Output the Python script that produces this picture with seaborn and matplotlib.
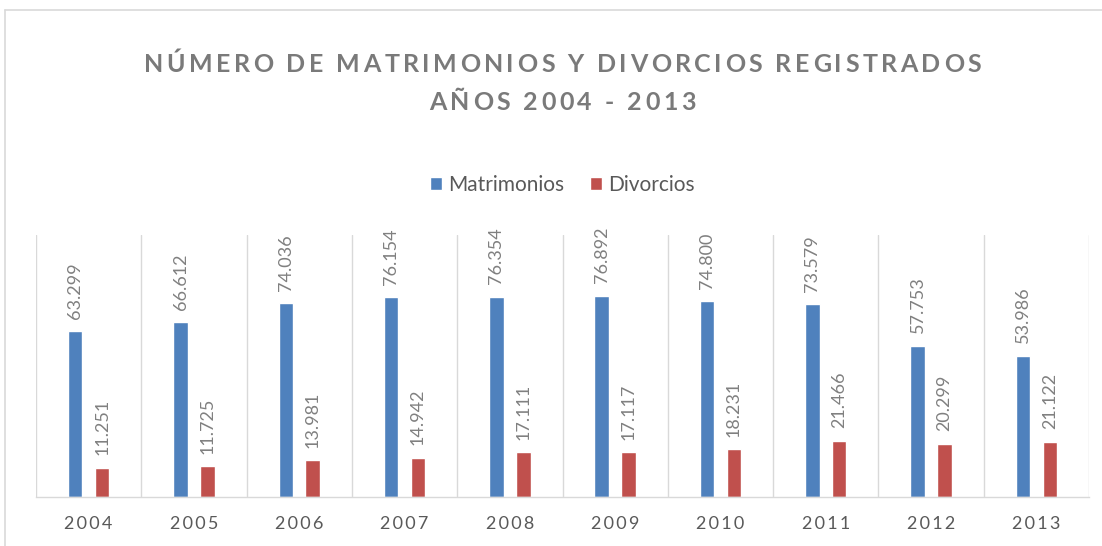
import matplotlib
matplotlib.use("Agg")
import matplotlib.pyplot as plt
from matplotlib.lines import Line2D
import seaborn as sns
import pandas as pd
import numpy as np

anios = ["2004", "2005", "2006", "2007", "2008", "2009", "2010", "2011", "2012", "2013"]
matrimonios = [63299, 66612, 74036, 76154, 76354, 76892, 74800, 73579, 57753, 53986]
divorcios = [11251, 11725, 13981, 14942, 17111, 17117, 18231, 21466, 20299, 21122]
series = ["Matrimonios", "Divorcios"]
titulo = ["NÚMERO DE MATRIMONIOS Y DIVORCIOS REGISTRADOS", "AÑOS 2004 - 2013"]

sns.set_theme(style="white")
plt.rcParams['font.family'] = ['Lato', 'DejaVu Sans']

df = pd.DataFrame({
    "Año": anios * 2,
    "Valor": matrimonios + divorcios,
    "Serie": [series[0]] * len(anios) + [series[1]] * len(anios),
})

W, H = 1102, 546
fig = plt.figure(figsize=(W / 100, H / 100), dpi=100)
ax = fig.add_axes([36 / W, 1 - 497 / H, (1089 - 36) / W, (497 - 235) / H])

sns.barplot(data=df, x="Año", y="Valor", hue="Serie", palette=["#4F81BD", "#C0504D"],
            width=0.51, gap=0.46, ax=ax, legend=True, saturation=1)

def fmt(v):
    return f"{v:,.0f}".replace(",", ".")

for cont in ax.containers:
    ax.bar_label(cont, labels=[fmt(b.get_height()) for b in cont], rotation=90,
                 padding=9, color="#808080", fontsize=13)

ax.set_xlim(-0.5, len(anios) - 0.5)
ax.set_ylim(0, 100000)
ax.set_xlabel("")
ax.set_ylabel("")
ax.set_yticks([])

ts = "\u2009"
ax.set_xticks(range(len(anios)))
ax.set_xticklabels([ts.join(list(a)) for a in anios], color="#595959", fontsize=13)
ax.tick_params(axis="x", which="major", length=0, pad=14)
ax.set_xticks(np.arange(-0.5, len(anios), 1), minor=True)
ax.tick_params(axis="x", which="minor", length=5, color="#D9D9D9", width=1)
ax.grid(which="minor", axis="x", color="#D9D9D9", linewidth=1)
ax.grid(which="major", axis="both", visible=False)
for s in ["top", "left", "right"]:
    ax.spines[s].set_visible(False)
ax.spines["bottom"].set_color("#D9D9D9")
ax.spines["bottom"].set_linewidth(1)

leg = ax.legend(loc="center", bbox_to_anchor=(0.5, (497 - 185) / (497 - 235)),
                ncol=2, frameon=False, fontsize=15, handlelength=0.6, handleheight=0.6,
                handletextpad=0.3, columnspacing=1.2)
for t in leg.get_texts():
    t.set_color("#595959")

# letter-spaced title, drawn character by character
renderer = fig.canvas.get_renderer()
tkw = dict(fontsize=18, fontweight="bold", color="#7A7A7A")

def text_w(s):
    t = fig.text(0, 0, s, **tkw)
    w = t.get_window_extent(renderer).width
    t.remove()
    return w

base = text_w("HH")
def adv(c):
    return text_w("H" + c + "H") - base

cx = (36 + 1089) / 2
line1_adv = [adv(c) for c in titulo[0]]
spacing = (837 - sum(line1_adv)) / (len(titulo[0]) - 1)
for line, y_base in zip(titulo, [72, 110]):
    advs = [adv(c) for c in line]
    total = sum(advs) + spacing * (len(line) - 1)
    x = cx - total / 2
    for c, a in zip(line, advs):
        if c != " ":
            fig.text(x / W, 1 - y_base / H, c, ha="left", va="baseline", **tkw)
        x += a + spacing

fig.add_artist(Line2D([5 / W, 1], [1 - 10 / H, 1 - 10 / H], color="#D9D9D9", linewidth=1.2))
fig.add_artist(Line2D([5 / W, 5 / W], [0, 1 - 10 / H], color="#D9D9D9", linewidth=1.2))

fig.savefig("out.png", dpi=100, facecolor="white")
